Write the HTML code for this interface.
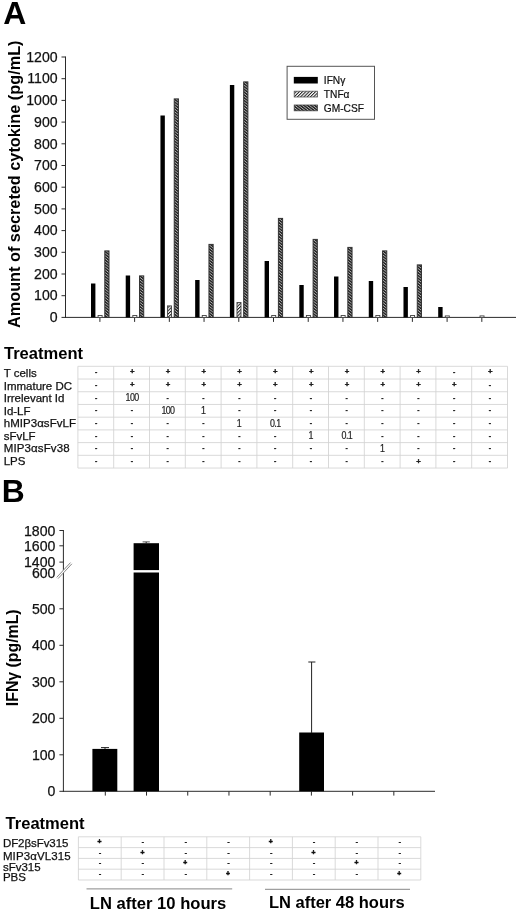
<!DOCTYPE html>
<html lang="en"><head><meta charset="utf-8"><title>Figure</title>
<style>html,body{margin:0;padding:0;background:#fff}svg{display:block;filter:blur(0.35px)}</style></head>
<body>
<svg width="520" height="911" viewBox="0 0 520 911" font-family="Liberation Sans, Arial, Helvetica, sans-serif" fill="#000">
<defs>
<pattern id="tnf" patternUnits="userSpaceOnUse" width="2.3" height="2.3" patternTransform="rotate(-45)">
<rect width="2.3" height="2.3" fill="#fff"/><rect y="0" width="2.3" height="1.0" fill="#1a1a1a"/>
</pattern>
<pattern id="gm" patternUnits="userSpaceOnUse" width="2.2" height="2.2" patternTransform="rotate(38)">
<rect width="2.2" height="2.2" fill="#1c1c1c"/><rect y="0" width="2.2" height="0.85" fill="#b4b4b4"/>
</pattern>
</defs>
<rect width="520" height="911" fill="#fff"/>
<text x="3.3" y="23.5" font-size="31.9" font-weight="bold">A</text>
<text x="1.7" y="501.5" font-size="31.8" font-weight="bold">B</text>
<g stroke="#2b2b2b" stroke-width="1" fill="none">
<line x1="65.5" y1="56.5" x2="65.5" y2="317.9"/>
<line x1="65.0" y1="317.4" x2="516" y2="317.4"/>
<line x1="61.5" y1="317.40" x2="65.5" y2="317.40"/>
<line x1="61.5" y1="295.70" x2="65.5" y2="295.70"/>
<line x1="61.5" y1="274.00" x2="65.5" y2="274.00"/>
<line x1="61.5" y1="252.30" x2="65.5" y2="252.30"/>
<line x1="61.5" y1="230.60" x2="65.5" y2="230.60"/>
<line x1="61.5" y1="208.90" x2="65.5" y2="208.90"/>
<line x1="61.5" y1="187.20" x2="65.5" y2="187.20"/>
<line x1="61.5" y1="165.50" x2="65.5" y2="165.50"/>
<line x1="61.5" y1="143.80" x2="65.5" y2="143.80"/>
<line x1="61.5" y1="122.10" x2="65.5" y2="122.10"/>
<line x1="61.5" y1="100.40" x2="65.5" y2="100.40"/>
<line x1="61.5" y1="78.70" x2="65.5" y2="78.70"/>
<line x1="61.5" y1="57.00" x2="65.5" y2="57.00"/>
<line x1="99.90" y1="317.4" x2="99.90" y2="321.9"/>
<line x1="134.62" y1="317.4" x2="134.62" y2="321.9"/>
<line x1="169.34" y1="317.4" x2="169.34" y2="321.9"/>
<line x1="204.06" y1="317.4" x2="204.06" y2="321.9"/>
<line x1="238.78" y1="317.4" x2="238.78" y2="321.9"/>
<line x1="273.50" y1="317.4" x2="273.50" y2="321.9"/>
<line x1="308.22" y1="317.4" x2="308.22" y2="321.9"/>
<line x1="342.94" y1="317.4" x2="342.94" y2="321.9"/>
<line x1="377.66" y1="317.4" x2="377.66" y2="321.9"/>
<line x1="412.38" y1="317.4" x2="412.38" y2="321.9"/>
<line x1="447.10" y1="317.4" x2="447.10" y2="321.9"/>
<line x1="481.82" y1="317.4" x2="481.82" y2="321.9"/>
</g>
<g font-size="14.1" text-anchor="end" fill="#111" stroke="#111" stroke-width="0.25">
<text x="57.6" y="322.15">0</text>
<text x="57.6" y="300.45">100</text>
<text x="57.6" y="278.75">200</text>
<text x="57.6" y="257.05">300</text>
<text x="57.6" y="235.35">400</text>
<text x="57.6" y="213.65">500</text>
<text x="57.6" y="191.95">600</text>
<text x="57.6" y="170.25">700</text>
<text x="57.6" y="148.55">800</text>
<text x="57.6" y="126.85">900</text>
<text x="57.6" y="105.15">1000</text>
<text x="57.6" y="83.45">1100</text>
<text x="57.6" y="61.75">1200</text>
</g>
<text transform="translate(20.0 328.0) rotate(-90)" font-size="16" font-weight="bold" textLength="287.5" lengthAdjust="spacingAndGlyphs">Amount of secreted cytokine (pg/mL)</text>
<rect x="91.00" y="283.5" width="4.4" height="33.90" fill="#000"/>
<rect x="98.10" y="315.5" width="4.0" height="1.90" fill="#fff" stroke="#444" stroke-width="0.9"/>
<rect x="104.80" y="250.9" width="4.2" height="66.50" fill="url(#gm)" stroke="#333" stroke-width="1"/>
<rect x="125.72" y="275.5" width="4.4" height="41.90" fill="#000"/>
<rect x="132.82" y="315.5" width="4.0" height="1.90" fill="#fff" stroke="#444" stroke-width="0.9"/>
<rect x="139.52" y="275.9" width="4.2" height="41.50" fill="url(#gm)" stroke="#333" stroke-width="1"/>
<rect x="160.44" y="115.5" width="4.4" height="201.90" fill="#000"/>
<rect x="167.54" y="305.9" width="4.0" height="11.50" fill="url(#tnf)" stroke="#444" stroke-width="0.9"/>
<rect x="174.24" y="98.9" width="4.2" height="218.50" fill="url(#gm)" stroke="#333" stroke-width="1"/>
<rect x="195.16" y="280" width="4.4" height="37.40" fill="#000"/>
<rect x="202.26" y="315.5" width="4.0" height="1.90" fill="#fff" stroke="#444" stroke-width="0.9"/>
<rect x="208.96" y="244.4" width="4.2" height="73.00" fill="url(#gm)" stroke="#333" stroke-width="1"/>
<rect x="229.88" y="85" width="4.4" height="232.40" fill="#000"/>
<rect x="236.98" y="302.5" width="4.0" height="14.90" fill="url(#tnf)" stroke="#444" stroke-width="0.9"/>
<rect x="243.68" y="81.9" width="4.2" height="235.50" fill="url(#gm)" stroke="#333" stroke-width="1"/>
<rect x="264.60" y="261" width="4.4" height="56.40" fill="#000"/>
<rect x="271.70" y="315.5" width="4.0" height="1.90" fill="#fff" stroke="#444" stroke-width="0.9"/>
<rect x="278.40" y="218.4" width="4.2" height="99.00" fill="url(#gm)" stroke="#333" stroke-width="1"/>
<rect x="299.32" y="285" width="4.4" height="32.40" fill="#000"/>
<rect x="306.42" y="315.5" width="4.0" height="1.90" fill="#fff" stroke="#444" stroke-width="0.9"/>
<rect x="313.12" y="239.4" width="4.2" height="78.00" fill="url(#gm)" stroke="#333" stroke-width="1"/>
<rect x="334.04" y="276.5" width="4.4" height="40.90" fill="#000"/>
<rect x="341.14" y="315.5" width="4.0" height="1.90" fill="#fff" stroke="#444" stroke-width="0.9"/>
<rect x="347.84" y="247.4" width="4.2" height="70.00" fill="url(#gm)" stroke="#333" stroke-width="1"/>
<rect x="368.76" y="281" width="4.4" height="36.40" fill="#000"/>
<rect x="375.86" y="315.5" width="4.0" height="1.90" fill="#fff" stroke="#444" stroke-width="0.9"/>
<rect x="382.56" y="250.9" width="4.2" height="66.50" fill="url(#gm)" stroke="#333" stroke-width="1"/>
<rect x="403.48" y="287" width="4.4" height="30.40" fill="#000"/>
<rect x="410.58" y="315.5" width="4.0" height="1.90" fill="#fff" stroke="#444" stroke-width="0.9"/>
<rect x="417.28" y="264.9" width="4.2" height="52.50" fill="url(#gm)" stroke="#333" stroke-width="1"/>
<rect x="438.20" y="307" width="4.4" height="10.40" fill="#000"/>
<rect x="445.30" y="315.9" width="4.0" height="1.50" fill="#fff" stroke="#444" stroke-width="0.9"/>
<rect x="480.02" y="315.9" width="4.0" height="1.50" fill="#fff" stroke="#444" stroke-width="0.9"/>
<rect x="287.1" y="66.3" width="87.4" height="53" fill="#fff" stroke="#555" stroke-width="1"/>
<rect x="293.8" y="76.9" width="24" height="6.6" fill="#000"/>
<rect x="294.2" y="91.2" width="23.3" height="5.8" fill="url(#tnf)" stroke="#555" stroke-width="0.8"/>
<rect x="294.2" y="105.0" width="23.3" height="5.8" fill="url(#gm)" stroke="#444" stroke-width="0.8"/>
<g font-size="10.2" fill="#111" stroke="#111" stroke-width="0.2">
<text x="323.8" y="83.8">IFNγ</text>
<text x="323.8" y="97.7">TNFα</text>
<text x="323.8" y="111.5">GM-CSF</text>
</g>
<text x="4.0" y="359.3" font-size="16.55" font-weight="bold">Treatment</text>
<g font-size="11.5" fill="#111" stroke="#111" stroke-width="0.25">
<text x="3.7" y="377.10">T cells</text>
<text x="3.7" y="389.60">Immature DC</text>
<text x="3.7" y="402.10">Irrelevant Id</text>
<text x="3.7" y="414.60">Id-LF</text>
<text x="3.7" y="427.10" textLength="72.3" lengthAdjust="spacing">hMIP3αsFvLF</text>
<text x="3.7" y="439.60">sFvLF</text>
<text x="3.7" y="452.10" textLength="65.9" lengthAdjust="spacing">MIP3αsFv38</text>
<text x="3.7" y="464.60">LPS</text>
</g>
<g stroke="#d2d2d2" stroke-width="0.85" fill="none">
<line x1="77.90" y1="366.3" x2="77.90" y2="468.06"/>
<line x1="113.70" y1="366.3" x2="113.70" y2="468.06"/>
<line x1="149.50" y1="366.3" x2="149.50" y2="468.06"/>
<line x1="185.30" y1="366.3" x2="185.30" y2="468.06"/>
<line x1="221.10" y1="366.3" x2="221.10" y2="468.06"/>
<line x1="256.90" y1="366.3" x2="256.90" y2="468.06"/>
<line x1="292.70" y1="366.3" x2="292.70" y2="468.06"/>
<line x1="328.50" y1="366.3" x2="328.50" y2="468.06"/>
<line x1="364.30" y1="366.3" x2="364.30" y2="468.06"/>
<line x1="400.10" y1="366.3" x2="400.10" y2="468.06"/>
<line x1="435.90" y1="366.3" x2="435.90" y2="468.06"/>
<line x1="471.70" y1="366.3" x2="471.70" y2="468.06"/>
<line x1="507.50" y1="366.3" x2="507.50" y2="468.06"/>
<line x1="77.9" y1="366.30" x2="507.50" y2="366.30"/>
<line x1="77.9" y1="379.02" x2="507.50" y2="379.02"/>
<line x1="77.9" y1="391.74" x2="507.50" y2="391.74"/>
<line x1="77.9" y1="404.46" x2="507.50" y2="404.46"/>
<line x1="77.9" y1="417.18" x2="507.50" y2="417.18"/>
<line x1="77.9" y1="429.90" x2="507.50" y2="429.90"/>
<line x1="77.9" y1="442.62" x2="507.50" y2="442.62"/>
<line x1="77.9" y1="455.34" x2="507.50" y2="455.34"/>
<line x1="77.9" y1="468.06" x2="507.50" y2="468.06"/>
</g>
<text x="96.10" y="375.16" font-size="8.4" font-weight="bold" text-anchor="middle" fill="#222">-</text>
<text x="132.20" y="374.46" font-size="7.8" font-weight="bold" text-anchor="middle" fill="#222" stroke="#222" stroke-width="0.4">+</text>
<text x="168.00" y="374.46" font-size="7.8" font-weight="bold" text-anchor="middle" fill="#222" stroke="#222" stroke-width="0.4">+</text>
<text x="203.80" y="374.46" font-size="7.8" font-weight="bold" text-anchor="middle" fill="#222" stroke="#222" stroke-width="0.4">+</text>
<text x="239.60" y="374.46" font-size="7.8" font-weight="bold" text-anchor="middle" fill="#222" stroke="#222" stroke-width="0.4">+</text>
<text x="275.40" y="374.46" font-size="7.8" font-weight="bold" text-anchor="middle" fill="#222" stroke="#222" stroke-width="0.4">+</text>
<text x="311.20" y="374.46" font-size="7.8" font-weight="bold" text-anchor="middle" fill="#222" stroke="#222" stroke-width="0.4">+</text>
<text x="347.00" y="374.46" font-size="7.8" font-weight="bold" text-anchor="middle" fill="#222" stroke="#222" stroke-width="0.4">+</text>
<text x="382.80" y="374.46" font-size="7.8" font-weight="bold" text-anchor="middle" fill="#222" stroke="#222" stroke-width="0.4">+</text>
<text x="418.60" y="374.46" font-size="7.8" font-weight="bold" text-anchor="middle" fill="#222" stroke="#222" stroke-width="0.4">+</text>
<text x="454.10" y="375.16" font-size="8.4" font-weight="bold" text-anchor="middle" fill="#222">-</text>
<text x="490.20" y="374.46" font-size="7.8" font-weight="bold" text-anchor="middle" fill="#222" stroke="#222" stroke-width="0.4">+</text>
<text x="96.10" y="387.88" font-size="8.4" font-weight="bold" text-anchor="middle" fill="#222">-</text>
<text x="132.20" y="387.18" font-size="7.8" font-weight="bold" text-anchor="middle" fill="#222" stroke="#222" stroke-width="0.4">+</text>
<text x="168.00" y="387.18" font-size="7.8" font-weight="bold" text-anchor="middle" fill="#222" stroke="#222" stroke-width="0.4">+</text>
<text x="203.80" y="387.18" font-size="7.8" font-weight="bold" text-anchor="middle" fill="#222" stroke="#222" stroke-width="0.4">+</text>
<text x="239.60" y="387.18" font-size="7.8" font-weight="bold" text-anchor="middle" fill="#222" stroke="#222" stroke-width="0.4">+</text>
<text x="275.40" y="387.18" font-size="7.8" font-weight="bold" text-anchor="middle" fill="#222" stroke="#222" stroke-width="0.4">+</text>
<text x="311.20" y="387.18" font-size="7.8" font-weight="bold" text-anchor="middle" fill="#222" stroke="#222" stroke-width="0.4">+</text>
<text x="347.00" y="387.18" font-size="7.8" font-weight="bold" text-anchor="middle" fill="#222" stroke="#222" stroke-width="0.4">+</text>
<text x="382.80" y="387.18" font-size="7.8" font-weight="bold" text-anchor="middle" fill="#222" stroke="#222" stroke-width="0.4">+</text>
<text x="418.60" y="387.18" font-size="7.8" font-weight="bold" text-anchor="middle" fill="#222" stroke="#222" stroke-width="0.4">+</text>
<text x="454.40" y="387.18" font-size="7.8" font-weight="bold" text-anchor="middle" fill="#222" stroke="#222" stroke-width="0.4">+</text>
<text x="489.90" y="387.88" font-size="8.4" font-weight="bold" text-anchor="middle" fill="#222">-</text>
<text x="96.10" y="400.60" font-size="8.4" font-weight="bold" text-anchor="middle" fill="#222">-</text>
<text transform="translate(132.10 401.20) scale(0.84 1)" font-size="10.6" text-anchor="middle" letter-spacing="-0.7" fill="#222" stroke="#222" stroke-width="0.2">100</text>
<text x="167.70" y="400.60" font-size="8.4" font-weight="bold" text-anchor="middle" fill="#222">-</text>
<text x="203.50" y="400.60" font-size="8.4" font-weight="bold" text-anchor="middle" fill="#222">-</text>
<text x="239.30" y="400.60" font-size="8.4" font-weight="bold" text-anchor="middle" fill="#222">-</text>
<text x="275.10" y="400.60" font-size="8.4" font-weight="bold" text-anchor="middle" fill="#222">-</text>
<text x="310.90" y="400.60" font-size="8.4" font-weight="bold" text-anchor="middle" fill="#222">-</text>
<text x="346.70" y="400.60" font-size="8.4" font-weight="bold" text-anchor="middle" fill="#222">-</text>
<text x="382.50" y="400.60" font-size="8.4" font-weight="bold" text-anchor="middle" fill="#222">-</text>
<text x="418.30" y="400.60" font-size="8.4" font-weight="bold" text-anchor="middle" fill="#222">-</text>
<text x="454.10" y="400.60" font-size="8.4" font-weight="bold" text-anchor="middle" fill="#222">-</text>
<text x="489.90" y="400.60" font-size="8.4" font-weight="bold" text-anchor="middle" fill="#222">-</text>
<text x="96.10" y="413.32" font-size="8.4" font-weight="bold" text-anchor="middle" fill="#222">-</text>
<text x="131.90" y="413.32" font-size="8.4" font-weight="bold" text-anchor="middle" fill="#222">-</text>
<text transform="translate(167.90 413.92) scale(0.84 1)" font-size="10.6" text-anchor="middle" letter-spacing="-0.7" fill="#222" stroke="#222" stroke-width="0.2">100</text>
<text transform="translate(203.50 413.92) scale(0.84 1)" font-size="10.6" text-anchor="middle" letter-spacing="0" fill="#222" stroke="#222" stroke-width="0.2">1</text>
<text x="239.30" y="413.32" font-size="8.4" font-weight="bold" text-anchor="middle" fill="#222">-</text>
<text x="275.10" y="413.32" font-size="8.4" font-weight="bold" text-anchor="middle" fill="#222">-</text>
<text x="310.90" y="413.32" font-size="8.4" font-weight="bold" text-anchor="middle" fill="#222">-</text>
<text x="346.70" y="413.32" font-size="8.4" font-weight="bold" text-anchor="middle" fill="#222">-</text>
<text x="382.50" y="413.32" font-size="8.4" font-weight="bold" text-anchor="middle" fill="#222">-</text>
<text x="418.30" y="413.32" font-size="8.4" font-weight="bold" text-anchor="middle" fill="#222">-</text>
<text x="454.10" y="413.32" font-size="8.4" font-weight="bold" text-anchor="middle" fill="#222">-</text>
<text x="489.90" y="413.32" font-size="8.4" font-weight="bold" text-anchor="middle" fill="#222">-</text>
<text x="96.10" y="426.04" font-size="8.4" font-weight="bold" text-anchor="middle" fill="#222">-</text>
<text x="131.90" y="426.04" font-size="8.4" font-weight="bold" text-anchor="middle" fill="#222">-</text>
<text x="167.70" y="426.04" font-size="8.4" font-weight="bold" text-anchor="middle" fill="#222">-</text>
<text x="203.50" y="426.04" font-size="8.4" font-weight="bold" text-anchor="middle" fill="#222">-</text>
<text transform="translate(239.30 426.64) scale(0.84 1)" font-size="10.6" text-anchor="middle" letter-spacing="0" fill="#222" stroke="#222" stroke-width="0.2">1</text>
<text transform="translate(275.30 426.64) scale(0.84 1)" font-size="10.6" text-anchor="middle" letter-spacing="-0.7" fill="#222" stroke="#222" stroke-width="0.2">0.1</text>
<text x="310.90" y="426.04" font-size="8.4" font-weight="bold" text-anchor="middle" fill="#222">-</text>
<text x="346.70" y="426.04" font-size="8.4" font-weight="bold" text-anchor="middle" fill="#222">-</text>
<text x="382.50" y="426.04" font-size="8.4" font-weight="bold" text-anchor="middle" fill="#222">-</text>
<text x="418.30" y="426.04" font-size="8.4" font-weight="bold" text-anchor="middle" fill="#222">-</text>
<text x="454.10" y="426.04" font-size="8.4" font-weight="bold" text-anchor="middle" fill="#222">-</text>
<text x="489.90" y="426.04" font-size="8.4" font-weight="bold" text-anchor="middle" fill="#222">-</text>
<text x="96.10" y="438.76" font-size="8.4" font-weight="bold" text-anchor="middle" fill="#222">-</text>
<text x="131.90" y="438.76" font-size="8.4" font-weight="bold" text-anchor="middle" fill="#222">-</text>
<text x="167.70" y="438.76" font-size="8.4" font-weight="bold" text-anchor="middle" fill="#222">-</text>
<text x="203.50" y="438.76" font-size="8.4" font-weight="bold" text-anchor="middle" fill="#222">-</text>
<text x="239.30" y="438.76" font-size="8.4" font-weight="bold" text-anchor="middle" fill="#222">-</text>
<text x="275.10" y="438.76" font-size="8.4" font-weight="bold" text-anchor="middle" fill="#222">-</text>
<text transform="translate(310.90 439.36) scale(0.84 1)" font-size="10.6" text-anchor="middle" letter-spacing="0" fill="#222" stroke="#222" stroke-width="0.2">1</text>
<text transform="translate(346.90 439.36) scale(0.84 1)" font-size="10.6" text-anchor="middle" letter-spacing="-0.7" fill="#222" stroke="#222" stroke-width="0.2">0.1</text>
<text x="382.50" y="438.76" font-size="8.4" font-weight="bold" text-anchor="middle" fill="#222">-</text>
<text x="418.30" y="438.76" font-size="8.4" font-weight="bold" text-anchor="middle" fill="#222">-</text>
<text x="454.10" y="438.76" font-size="8.4" font-weight="bold" text-anchor="middle" fill="#222">-</text>
<text x="489.90" y="438.76" font-size="8.4" font-weight="bold" text-anchor="middle" fill="#222">-</text>
<text x="96.10" y="451.48" font-size="8.4" font-weight="bold" text-anchor="middle" fill="#222">-</text>
<text x="131.90" y="451.48" font-size="8.4" font-weight="bold" text-anchor="middle" fill="#222">-</text>
<text x="167.70" y="451.48" font-size="8.4" font-weight="bold" text-anchor="middle" fill="#222">-</text>
<text x="203.50" y="451.48" font-size="8.4" font-weight="bold" text-anchor="middle" fill="#222">-</text>
<text x="239.30" y="451.48" font-size="8.4" font-weight="bold" text-anchor="middle" fill="#222">-</text>
<text x="275.10" y="451.48" font-size="8.4" font-weight="bold" text-anchor="middle" fill="#222">-</text>
<text x="310.90" y="451.48" font-size="8.4" font-weight="bold" text-anchor="middle" fill="#222">-</text>
<text x="346.70" y="451.48" font-size="8.4" font-weight="bold" text-anchor="middle" fill="#222">-</text>
<text transform="translate(382.50 452.08) scale(0.84 1)" font-size="10.6" text-anchor="middle" letter-spacing="0" fill="#222" stroke="#222" stroke-width="0.2">1</text>
<text x="418.30" y="451.48" font-size="8.4" font-weight="bold" text-anchor="middle" fill="#222">-</text>
<text x="454.10" y="451.48" font-size="8.4" font-weight="bold" text-anchor="middle" fill="#222">-</text>
<text x="489.90" y="451.48" font-size="8.4" font-weight="bold" text-anchor="middle" fill="#222">-</text>
<text x="96.10" y="464.20" font-size="8.4" font-weight="bold" text-anchor="middle" fill="#222">-</text>
<text x="131.90" y="464.20" font-size="8.4" font-weight="bold" text-anchor="middle" fill="#222">-</text>
<text x="167.70" y="464.20" font-size="8.4" font-weight="bold" text-anchor="middle" fill="#222">-</text>
<text x="203.50" y="464.20" font-size="8.4" font-weight="bold" text-anchor="middle" fill="#222">-</text>
<text x="239.30" y="464.20" font-size="8.4" font-weight="bold" text-anchor="middle" fill="#222">-</text>
<text x="275.10" y="464.20" font-size="8.4" font-weight="bold" text-anchor="middle" fill="#222">-</text>
<text x="310.90" y="464.20" font-size="8.4" font-weight="bold" text-anchor="middle" fill="#222">-</text>
<text x="346.70" y="464.20" font-size="8.4" font-weight="bold" text-anchor="middle" fill="#222">-</text>
<text x="382.50" y="464.20" font-size="8.4" font-weight="bold" text-anchor="middle" fill="#222">-</text>
<text x="418.60" y="463.50" font-size="7.8" font-weight="bold" text-anchor="middle" fill="#222" stroke="#222" stroke-width="0.4">+</text>
<text x="454.10" y="464.20" font-size="8.4" font-weight="bold" text-anchor="middle" fill="#222">-</text>
<text x="489.90" y="464.20" font-size="8.4" font-weight="bold" text-anchor="middle" fill="#222">-</text>
<g stroke="#2b2b2b" stroke-width="1" fill="none">
<line x1="63.4" y1="530" x2="63.4" y2="791.8"/>
<line x1="62.9" y1="791.3" x2="435" y2="791.3"/>
<line x1="59.4" y1="791.30" x2="63.4" y2="791.30"/>
<line x1="59.4" y1="754.80" x2="63.4" y2="754.80"/>
<line x1="59.4" y1="718.30" x2="63.4" y2="718.30"/>
<line x1="59.4" y1="681.80" x2="63.4" y2="681.80"/>
<line x1="59.4" y1="645.30" x2="63.4" y2="645.30"/>
<line x1="59.4" y1="608.80" x2="63.4" y2="608.80"/>
<line x1="59.4" y1="545.80" x2="63.4" y2="545.80"/>
<line x1="59.4" y1="530.50" x2="63.4" y2="530.50"/>
<line x1="59.4" y1="562.1" x2="63.4" y2="562.1"/>
<line x1="105.30" y1="791.3" x2="105.30" y2="795.5999999999999"/>
<line x1="146.52" y1="791.3" x2="146.52" y2="795.5999999999999"/>
<line x1="187.74" y1="791.3" x2="187.74" y2="795.5999999999999"/>
<line x1="228.96" y1="791.3" x2="228.96" y2="795.5999999999999"/>
<line x1="270.18" y1="791.3" x2="270.18" y2="795.5999999999999"/>
<line x1="311.40" y1="791.3" x2="311.40" y2="795.5999999999999"/>
<line x1="352.62" y1="791.3" x2="352.62" y2="795.5999999999999"/>
<line x1="393.84" y1="791.3" x2="393.84" y2="795.5999999999999"/>
</g>
<g stroke="#fff" stroke-width="2.2"><line x1="57.5" y1="577.8" x2="71.3" y2="563.0"/></g>
<g stroke="#555" stroke-width="0.7"><line x1="56.7" y1="577.4" x2="70.5" y2="562.6"/><line x1="58.1" y1="578.6" x2="71.9" y2="563.8"/></g>
<g font-size="14.1" text-anchor="end" fill="#111" stroke="#111" stroke-width="0.25">
<text x="55.4" y="796.25">0</text>
<text x="55.4" y="759.75">100</text>
<text x="55.4" y="723.25">200</text>
<text x="55.4" y="686.75">300</text>
<text x="55.4" y="650.25">400</text>
<text x="55.4" y="613.75">500</text>
<text x="55.4" y="577.8">600</text>
<text x="55.4" y="567.2">1400</text>
<text x="55.4" y="550.9">1600</text>
<text x="55.4" y="535.6">1800</text>
</g>
<text transform="translate(18.2 706.2) rotate(-90)" font-size="16" font-weight="bold" textLength="96.8" lengthAdjust="spacingAndGlyphs">IFNγ (pg/mL)</text>
<rect x="92.4" y="748.9" width="24.9" height="42.40" fill="#000"/>
<rect x="133.6" y="543.2" width="25.4" height="248.10" fill="#000"/>
<rect x="133" y="570.1" width="27" height="2.4" fill="#fff"/>
<rect x="299.2" y="732.5" width="24.8" height="58.80" fill="#000"/>
<g stroke="#222" stroke-width="1" fill="none">
<line x1="101" y1="747.6" x2="109" y2="747.6"/><line x1="105" y1="747.6" x2="105" y2="749"/>
<line x1="142.6" y1="541.9" x2="149.8" y2="541.9" stroke="#555"/><line x1="146.2" y1="541.9" x2="146.2" y2="543.5"/>
<line x1="311.6" y1="662" x2="311.6" y2="733"/><line x1="308.3" y1="662" x2="315.4" y2="662"/>
</g>
<text x="5.6" y="829" font-size="16.55" font-weight="bold">Treatment</text>
<g font-size="11.5" fill="#111" stroke="#111" stroke-width="0.25">
<text x="2.9" y="846.5" textLength="65.5" lengthAdjust="spacing">DF2βsFv315</text>
<text x="2.9" y="860" textLength="67.7" lengthAdjust="spacing">MIP3αVL315</text>
<text x="2.9" y="870.8">sFv315</text>
<text x="2.9" y="881.3">PBS</text>
</g>
<g stroke="#d2d2d2" stroke-width="0.85" fill="none">
<line x1="78.40" y1="836.8" x2="78.40" y2="880.00"/>
<line x1="121.20" y1="836.8" x2="121.20" y2="880.00"/>
<line x1="164.00" y1="836.8" x2="164.00" y2="880.00"/>
<line x1="206.80" y1="836.8" x2="206.80" y2="880.00"/>
<line x1="249.60" y1="836.8" x2="249.60" y2="880.00"/>
<line x1="292.40" y1="836.8" x2="292.40" y2="880.00"/>
<line x1="335.20" y1="836.8" x2="335.20" y2="880.00"/>
<line x1="378.00" y1="836.8" x2="378.00" y2="880.00"/>
<line x1="420.80" y1="836.8" x2="420.80" y2="880.00"/>
<line x1="78.4" y1="836.80" x2="420.80" y2="836.80"/>
<line x1="78.4" y1="847.60" x2="420.80" y2="847.60"/>
<line x1="78.4" y1="858.40" x2="420.80" y2="858.40"/>
<line x1="78.4" y1="869.20" x2="420.80" y2="869.20"/>
<line x1="78.4" y1="880.00" x2="420.80" y2="880.00"/>
</g>
<text x="99.60" y="843.80" font-size="6.8" font-weight="bold" text-anchor="middle" fill="#111" stroke="#111" stroke-width="0.5">+</text>
<text x="142.90" y="843.70" font-size="6.2" font-weight="bold" text-anchor="middle" fill="#222" stroke="#222" stroke-width="0.55">-</text>
<text x="185.70" y="843.70" font-size="6.2" font-weight="bold" text-anchor="middle" fill="#222" stroke="#222" stroke-width="0.55">-</text>
<text x="228.50" y="843.70" font-size="6.2" font-weight="bold" text-anchor="middle" fill="#222" stroke="#222" stroke-width="0.55">-</text>
<text x="270.80" y="843.80" font-size="6.8" font-weight="bold" text-anchor="middle" fill="#111" stroke="#111" stroke-width="0.5">+</text>
<text x="314.10" y="843.70" font-size="6.2" font-weight="bold" text-anchor="middle" fill="#222" stroke="#222" stroke-width="0.55">-</text>
<text x="356.90" y="843.70" font-size="6.2" font-weight="bold" text-anchor="middle" fill="#222" stroke="#222" stroke-width="0.55">-</text>
<text x="399.70" y="843.70" font-size="6.2" font-weight="bold" text-anchor="middle" fill="#222" stroke="#222" stroke-width="0.55">-</text>
<text x="100.10" y="854.50" font-size="6.2" font-weight="bold" text-anchor="middle" fill="#222" stroke="#222" stroke-width="0.55">-</text>
<text x="142.40" y="854.60" font-size="6.8" font-weight="bold" text-anchor="middle" fill="#111" stroke="#111" stroke-width="0.5">+</text>
<text x="185.70" y="854.50" font-size="6.2" font-weight="bold" text-anchor="middle" fill="#222" stroke="#222" stroke-width="0.55">-</text>
<text x="228.50" y="854.50" font-size="6.2" font-weight="bold" text-anchor="middle" fill="#222" stroke="#222" stroke-width="0.55">-</text>
<text x="271.30" y="854.50" font-size="6.2" font-weight="bold" text-anchor="middle" fill="#222" stroke="#222" stroke-width="0.55">-</text>
<text x="313.60" y="854.60" font-size="6.8" font-weight="bold" text-anchor="middle" fill="#111" stroke="#111" stroke-width="0.5">+</text>
<text x="356.90" y="854.50" font-size="6.2" font-weight="bold" text-anchor="middle" fill="#222" stroke="#222" stroke-width="0.55">-</text>
<text x="399.70" y="854.50" font-size="6.2" font-weight="bold" text-anchor="middle" fill="#222" stroke="#222" stroke-width="0.55">-</text>
<text x="100.10" y="865.30" font-size="6.2" font-weight="bold" text-anchor="middle" fill="#222" stroke="#222" stroke-width="0.55">-</text>
<text x="142.90" y="865.30" font-size="6.2" font-weight="bold" text-anchor="middle" fill="#222" stroke="#222" stroke-width="0.55">-</text>
<text x="185.20" y="865.40" font-size="6.8" font-weight="bold" text-anchor="middle" fill="#111" stroke="#111" stroke-width="0.5">+</text>
<text x="228.50" y="865.30" font-size="6.2" font-weight="bold" text-anchor="middle" fill="#222" stroke="#222" stroke-width="0.55">-</text>
<text x="271.30" y="865.30" font-size="6.2" font-weight="bold" text-anchor="middle" fill="#222" stroke="#222" stroke-width="0.55">-</text>
<text x="314.10" y="865.30" font-size="6.2" font-weight="bold" text-anchor="middle" fill="#222" stroke="#222" stroke-width="0.55">-</text>
<text x="356.40" y="865.40" font-size="6.8" font-weight="bold" text-anchor="middle" fill="#111" stroke="#111" stroke-width="0.5">+</text>
<text x="399.70" y="865.30" font-size="6.2" font-weight="bold" text-anchor="middle" fill="#222" stroke="#222" stroke-width="0.55">-</text>
<text x="100.10" y="876.10" font-size="6.2" font-weight="bold" text-anchor="middle" fill="#222" stroke="#222" stroke-width="0.55">-</text>
<text x="142.90" y="876.10" font-size="6.2" font-weight="bold" text-anchor="middle" fill="#222" stroke="#222" stroke-width="0.55">-</text>
<text x="185.70" y="876.10" font-size="6.2" font-weight="bold" text-anchor="middle" fill="#222" stroke="#222" stroke-width="0.55">-</text>
<text x="228.00" y="876.20" font-size="6.8" font-weight="bold" text-anchor="middle" fill="#111" stroke="#111" stroke-width="0.5">+</text>
<text x="271.30" y="876.10" font-size="6.2" font-weight="bold" text-anchor="middle" fill="#222" stroke="#222" stroke-width="0.55">-</text>
<text x="314.10" y="876.10" font-size="6.2" font-weight="bold" text-anchor="middle" fill="#222" stroke="#222" stroke-width="0.55">-</text>
<text x="356.90" y="876.10" font-size="6.2" font-weight="bold" text-anchor="middle" fill="#222" stroke="#222" stroke-width="0.55">-</text>
<text x="399.20" y="876.20" font-size="6.8" font-weight="bold" text-anchor="middle" fill="#111" stroke="#111" stroke-width="0.5">+</text>
<g stroke="#888" stroke-width="1"><line x1="86.5" y1="888.9" x2="232.2" y2="888.9"/><line x1="265" y1="889.3" x2="410" y2="889.3"/></g>
<text x="89.8" y="909.2" font-size="16.6" font-weight="bold">LN after 10 hours</text>
<text x="268.9" y="907.6" font-size="16.5" font-weight="bold">LN after 48 hours</text>
</svg>
</body></html>
